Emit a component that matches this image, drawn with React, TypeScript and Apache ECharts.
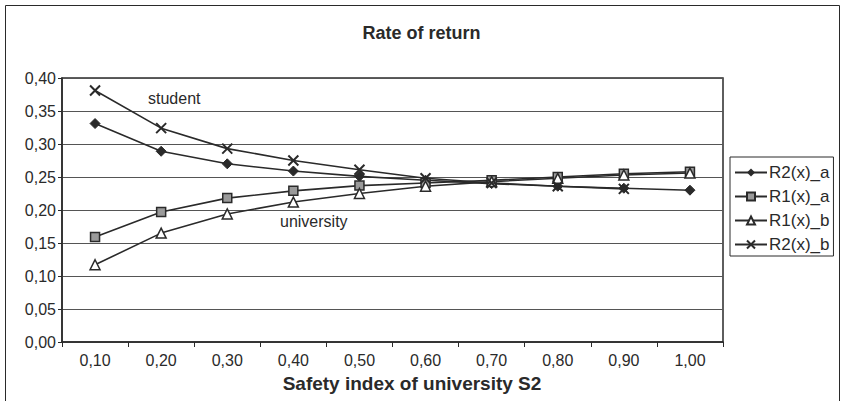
import React, { useEffect, useRef } from "react";
import * as echarts from "echarts";

const categories = ["0,10", "0,20", "0,30", "0,40", "0,50", "0,60", "0,70", "0,80", "0,90", "1,00"];
const r2a = [0.331, 0.289, 0.27, 0.259, 0.251, 0.245, 0.24, 0.236, 0.233, 0.23];
const r1a = [0.159, 0.197, 0.218, 0.229, 0.237, 0.241, 0.245, 0.25, 0.255, 0.258];
const r1b = [0.117, 0.165, 0.194, 0.212, 0.225, 0.236, 0.243, 0.248, 0.253, 0.256];
const r2b = [0.381, 0.324, 0.293, 0.275, 0.261, 0.248, 0.241, 0.236, 0.232, null];
const seriesNames = ["R2(x)_a", "R1(x)_a", "R1(x)_b", "R2(x)_b"];
const xAxisTitle = "Safety index of university S2";

const FONT = "Liberation Sans, Arial, sans-serif";
const INK = "#2a2a2a";

export default function App() {
  const ref = useRef<HTMLDivElement>(null);
  useEffect(() => {
    if (!ref.current) return;
    const chart = echarts.init(ref.current, undefined, { renderer: "svg" });
    const lineStyle = { color: INK, width: 1.6 };
    chart.setOption({
      animation: false,
      backgroundColor: "#ffffff",
      textStyle: { fontFamily: FONT, color: INK },
      title: {
        text: "Rate of return",
        left: "center",
        top: 19,
        textStyle: { fontFamily: FONT, fontSize: 18, fontWeight: "bold", color: INK },
      },
      legend: {
        orient: "vertical",
        left: 730,
        top: 157,
        data: seriesNames,
        itemWidth: 32,
        itemHeight: 10,
        itemGap: 7,
        padding: [7, 4, 3, 4],
        borderColor: INK,
        borderWidth: 1,
        textStyle: { fontFamily: FONT, fontSize: 17, color: INK, padding: [0, 0, 0, -3] },
      },
      grid: {
        left: 62,
        top: 78,
        width: 661,
        height: 264,
        show: true,
        borderColor: INK,
        borderWidth: 1.5,
        containLabel: false,
      },
      xAxis: {
        type: "category",
        data: categories,
        boundaryGap: true,
        axisLine: { lineStyle: { color: INK, width: 1.5 } },
        axisTick: { show: true, length: 5, lineStyle: { color: INK } },
        axisLabel: { fontFamily: FONT, fontSize: 16, color: INK, margin: 10 },
      },
      yAxis: {
        type: "value",
        min: 0,
        max: 0.4,
        interval: 0.05,
        axisLine: { show: true, lineStyle: { color: INK, width: 1.5 } },
        axisTick: { show: true, length: 4, lineStyle: { color: INK } },
        axisLabel: {
          fontFamily: FONT,
          fontSize: 16,
          color: INK,
          margin: 6,
          formatter: (v: number) => v.toFixed(2).replace(".", ","),
        },
        splitLine: { show: true, lineStyle: { color: "#555", width: 1 } },
      },
      series: [
        {
          name: seriesNames[0],
          type: "line",
          data: r2a,
          symbol: "diamond",
          symbolSize: 10,
          lineStyle,
          itemStyle: { color: INK, borderColor: INK },
          z: 3,
        },
        {
          name: seriesNames[1],
          type: "line",
          data: r1a,
          symbol: "rect",
          symbolSize: 9,
          lineStyle,
          itemStyle: { color: "#9a9a9a", borderColor: INK, borderWidth: 1.5 },
          z: 4,
        },
        {
          name: seriesNames[2],
          type: "line",
          data: r1b,
          symbol: "triangle",
          symbolSize: 10,
          lineStyle,
          itemStyle: { color: "#ffffff", borderColor: INK, borderWidth: 1.5 },
          z: 4,
        },
        {
          name: seriesNames[3],
          type: "line",
          data: r2b,
          symbol: "path://M0,0L10,10M10,0L0,10",
          symbolSize: 10,
          lineStyle,
          itemStyle: { color: "none", borderColor: INK, borderWidth: 2 },
          z: 5,
        },
      ],
      graphic: [
        {
          type: "rect",
          shape: { x: 5.5, y: 5.5, width: 834, height: 410 },
          style: { fill: "none", stroke: INK, lineWidth: 1 },
          silent: true,
          z: -1,
        },
        {
          type: "text",
          x: 148,
          y: 90,
          style: { text: "student", fontFamily: FONT, fontSize: 16, fill: INK },
        },
        {
          type: "text",
          x: 280,
          y: 213,
          style: { text: "university", fontFamily: FONT, fontSize: 16, fill: INK },
        },
        {
          type: "text",
          x: 412,
          y: 383,
          style: {
            text: xAxisTitle,
            fontFamily: FONT,
            fontSize: 19,
            fontWeight: "bold",
            fill: INK,
            align: "center",
            verticalAlign: "middle",
          },
        },
      ],
    });
    return () => chart.dispose();
  }, []);
  return (
    <div
      ref={ref}
      style={{ position: "fixed", left: 0, top: 0, width: 843, height: 401, background: "#fff" }}
    />
  );
}
